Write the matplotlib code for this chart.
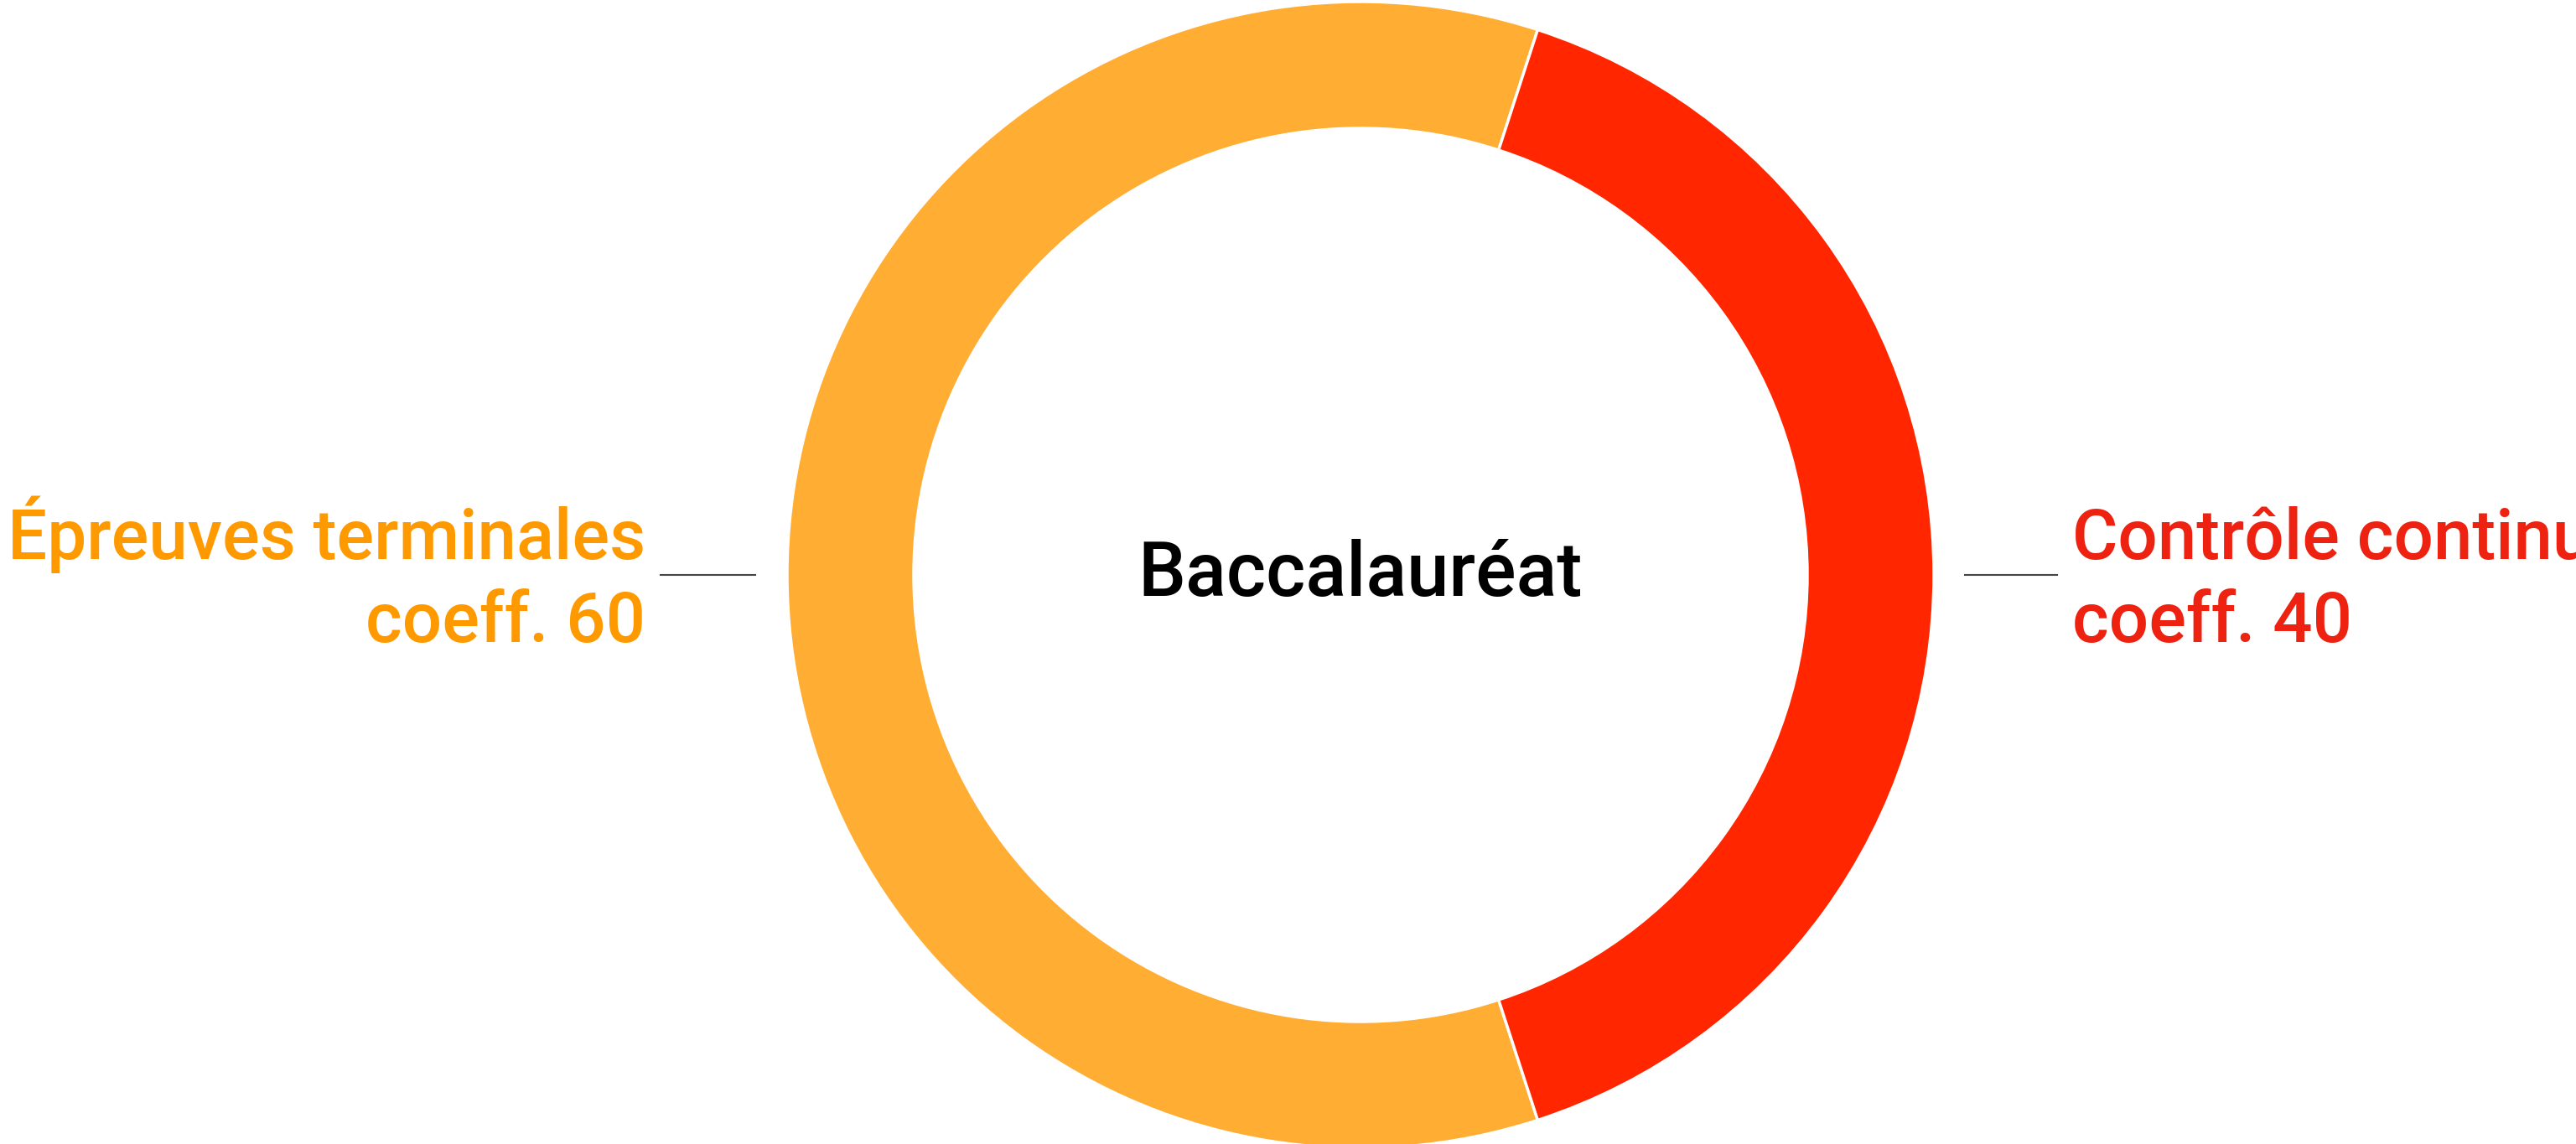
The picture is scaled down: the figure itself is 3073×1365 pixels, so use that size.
import matplotlib
matplotlib.use("Agg")
import matplotlib.pyplot as plt

# data
categories = ["Épreuves terminales", "Contrôle continu"]
coefficients = [60, 40]
wedge_colors = ["#FFAD33", "#FF2600"]
text_colors = ["#FF9900", "#EE2211"]
center_title = "Baccalauréat"

plt.rcParams['font.family'] = ['Roboto', 'DejaVu Sans']

W, H = 3073, 1365
fig = plt.figure(figsize=(W / 100, H / 100), dpi=100)
ax = fig.add_axes([0, 0, 1, 1])

cx, cy = 1623, 679
R = 684
ax.pie(coefficients, colors=wedge_colors, startangle=72, center=(cx, cy), radius=R,
       wedgeprops=dict(width=151, edgecolor='white', linewidth=2.5), frame=True)
ax.set_xlim(0, W)
ax.set_ylim(0, H)
ax.set_aspect('equal')
ax.axis('off')

ax.text(cx, cy, center_title, ha='center', va='center', fontsize=65, fontweight='medium',
        color='black')

fs = 60
# left label
ax.plot([788, 901], [cy, cy], color='#444444', lw=1.5)
ax.text(770, H - 667, categories[0], ha='right', va='baseline', fontsize=fs,
        fontweight='medium', color=text_colors[0])
ax.text(770, H - 766, "coeff. %d" % coefficients[0], ha='right', va='baseline', fontsize=fs,
        fontweight='medium', color=text_colors[0])

# right label
ax.plot([2344, 2454], [cy, cy], color='#444444', lw=1.5)
ax.text(2472, H - 667, categories[1], ha='left', va='baseline', fontsize=fs,
        fontweight='medium', color=text_colors[1])
ax.text(2472, H - 766, "coeff. %d" % coefficients[1], ha='left', va='baseline', fontsize=fs,
        fontweight='medium', color=text_colors[1])

fig.savefig("out.png", dpi=100)
